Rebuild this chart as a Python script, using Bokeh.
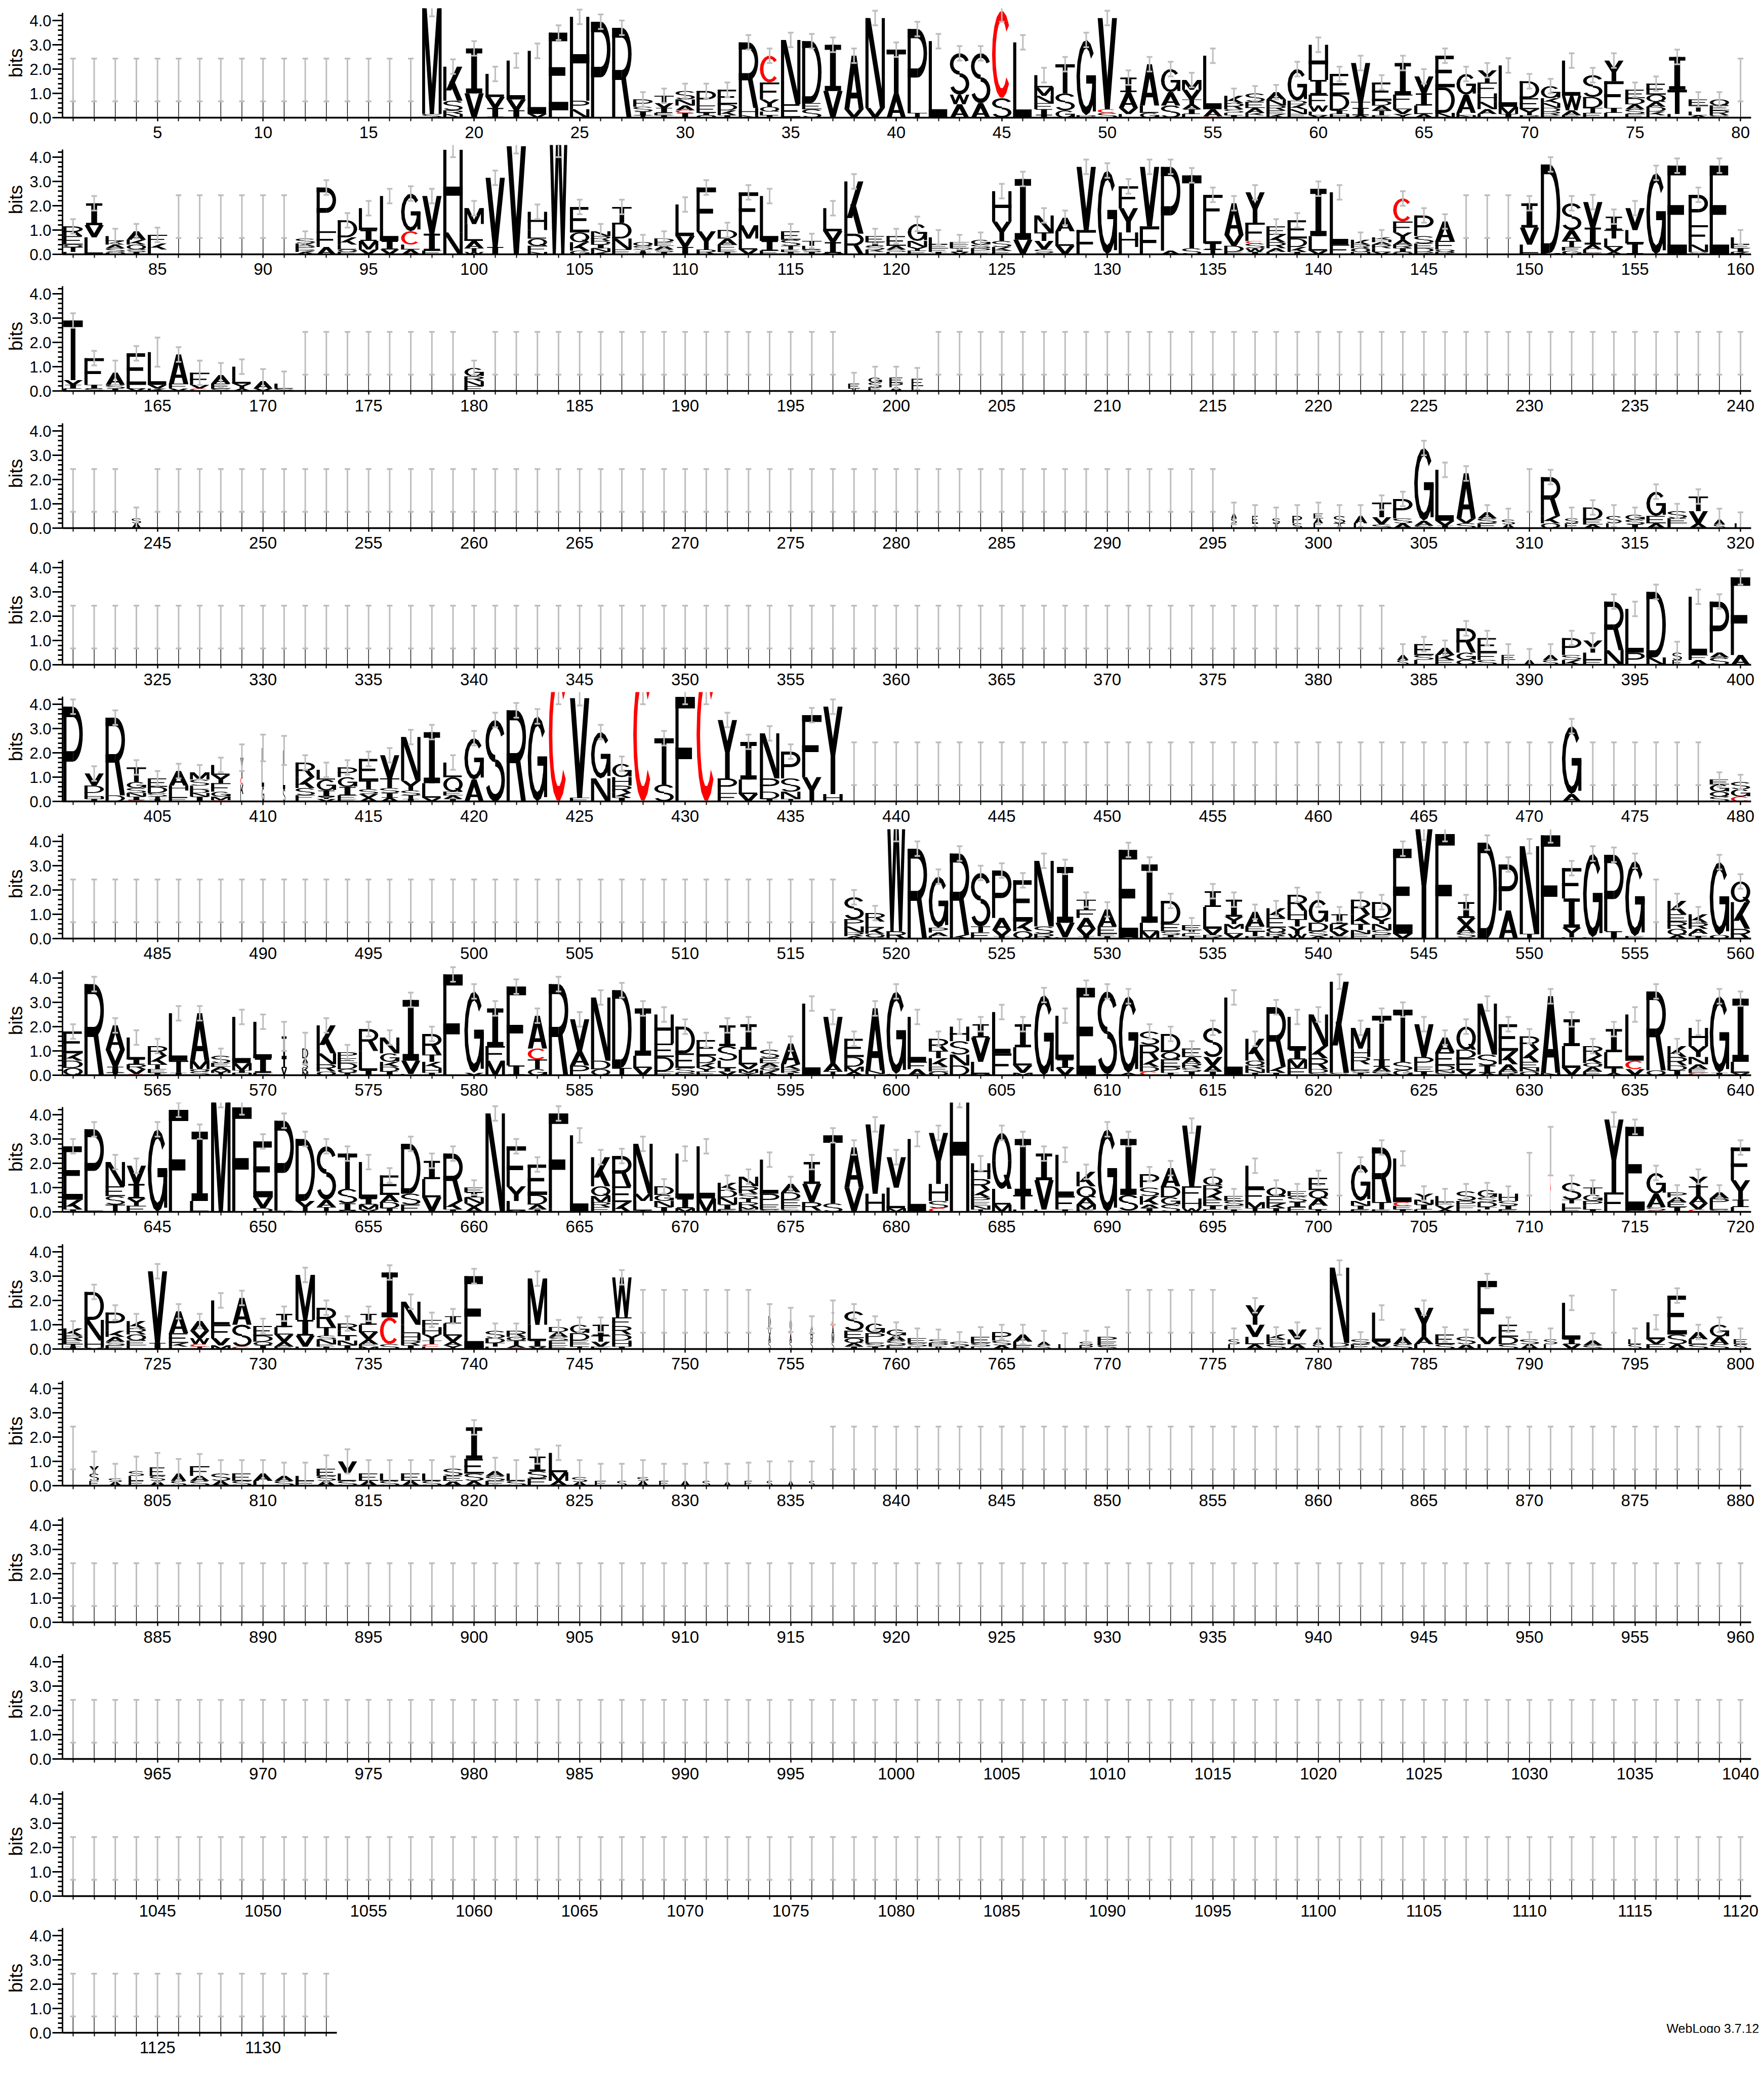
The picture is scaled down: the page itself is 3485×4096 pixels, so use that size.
import math
from bokeh.plotting import figure
from bokeh.layouts import column, row
from bokeh.models import Range1d, FixedTicker, PrintfTickFormatter
from bokeh.embed import file_html
from bokeh.resources import INLINE

# ---------------- data (letters bottom->top with heights in bits) ----------------
# "-" = gap column, "-N" = N gap columns, "wX" = stack width fraction,
# "eX" = error half-length, "cX" = error-bar centre (when different from stack top)
ROW01 = ["-17",
 "S.15 M4.45 c4.47", "N.15 R.15 S.4 K1.4", "V1 I1.85",
 "I.4 V.45 L.95", "I.3 V.45 L1.6", "V.15 L2.6", "L.3 E3.2", "N.35 P.35 H3.45", "P3.95", "R3.7", "T.1 I.15 S.2 P.3", "I.1 E.1 I.2 V.2 T.3", "I.2 C.1 A.2 N.25 S.35",
 "Q.1 I.1 E.3 P.6", "I.1 K.2 D.25 E.6", "N.1 H.3 R2.7", "I.1 L.15 Q.2 Y.3 F.7 C1.1", "E.55 N2.65", "S.35 E.25 D2.55", "V1.1 I1.9", "V.35 A2.2", "V.4 N3.7", "A1 T1.8",
 "T.2 P3.45", "L3.15", "A.55 W.4 S1.7", "A.6 S2.05", "S.8 C3.6 c4.25", "L3.1", "I.1 I.25 F.25 N.3 M.35 L.5", "G.3 S.7 T1.2", "P.1 G3.1", "S.2 C.15 V3.75",
 "L.15 V.25 A.65 I.6", "G.2 L.3 A1.7", "S.5 A.55 G.95", "L.15 I.2 A.2 T.2 V.4 M.4", "C.05 A.3 L2.2", "I.1 L.1 S.15 R.25 K.3", "L.1 K.1 A.2 E.25 S.35", "K.15 E.15 R.2 N.25 A.3", "E.15 N.2 K.2 D.15 G1.3", "V.1 L.15 W.25 F.45 I.6 H1.45",
 "H.15 I.15 D.65 E.85", "A.1 I.3 T.25 V1.6", "E.1 T.2 A.2 D.2 E.75", "Y.15 V.2 L.25 F.35 I1.3", "A.15 L.35 I.5 V.7", "N.2 D1.05 E1.3", "N.1 L.1 A.75 G.85", "L.15 A.2 N.3 H.35 F.45 Y.5", "I.15 M.3 L1.7", "R.1 Y.25 E.45 D.7",
 "E.1 R.15 D.15 N.2 K.2 G.5", "E.1 A.2 W.6 L1.45", "E.2 T.2 D.45 S.9", "L.2 I.2 F1.1 Y.85", "F.15 S.2 A.2 D.25 E.35", "L.1 K.15 D.2 A.2 Q.3 E.45", "L.15 T1.0 I1.35", "A.1 L.15 T.25 E.25", "S.1 R.2 E.2 Q.25", "-"]

ROW02 = [
 "L.1 T.2 Q.1 E.35 R.4", "L.7 V.5 I.9", "Q.1 S.15 A.15 K.15 L.2", "I.1 S.1 Q.2 K.2 A.35", "L.2 K.25 F.35", "-5",
 "-", "A.1 R.1 P.15 K.1 S.2", "A.3 F.65 P1.8", "E.1 Q.1 L.2 K.3 D.7", "V.2 M.35 I.45 L.9", "V.2 I.35 L1.85", "A.2 L.2 C.55 G1.55", "F.15 I.7 V1.55", "N.9 H3.4", "W.1 T.15 A.3 L.7 M.65",
 "I.3 V2.85", "V4.45", "N.1 F.25 Q.3 L.35 H.75", "W6.0 c4.3", "G.15 K.35 Q.4 E1.05", "K.1 N.15 I.15 D.15 R.2 N.2", "E.2 N.45 D.65 T.65", "I.1 T.1 S.15 Q.15", "I.1 S.1 A.15 E.15 D.15", "I.3 V.45 L1.3",
 "R.2 Y.75 F1.8", "I.1 E.1 F.2 A.25 D.35", "V.2 L.45 M.55 F1.35", "F.15 I.4 L1.85", "I.1 E.1 T.15 S.25 E.35", "I.1 S.1 L.15 T.2", "M.05 I.45 V.45 L.95", "R.85 K2.15", "L.1 K.1 S.15 I.15 E.25", "L.1 S.1 A.15 E.4",
 "E.15 Y.15 N.25 G.7", "I.1 F.15 E.15 L.3", "V.1 I.15 E.15 F.1", "F.1 P.15 S.15 G.2", "F.15 K.15 S.25 Y.8 H1.25", "V.6 I2.5", "C.05 S.15 V.35 T.35 N.7", "V.35 L.6 A.55", "F1 V2.6", "G3.45",
 "L.3 H.6 Y1.0 F.9", "F1.15 V2.45", "A.15 P3.45", "S.25 T3.0", "T.2 I.25 L.85 F1.15", "E.1 D.25 V.45 A1.3", "I.1 W.15 S.2 C.1 F.75 Y1.25", "L.1 A.15 R.25 K.3 E.35", "I.1 K.2 D.35 E.75", "V.15 L.6 I1.95",
 "F.4 L2.15", "H.1 Q.15 R.15 K.2", "V.1 L.15 R.15 A.1 H.1 K.1", "Q.1 I.15 R.15 A.2 Y.3 F.45 C.95", "R.1 D.15 E.2 S.3 P.85", "R.1 Q.1 F.35 A.8", "-3", "F.05 L.35 V.7 I1.0",
 "M.05 D3.65", "G.15 F.15 T.25 A.45 S1.1", "C.05 L.15 A.2 I.7 V1.05", "A.1 V.2 L.35 T.35 I.55", "I.45 L.55 V.9", "G3.35", "E3.65", "C.05 S.05 N.3 F.8 P1.25", "E3.65", "K.1 I.15 E.15 L.3"]

ROW03 = [
 "L.1 I.15 V.2 T2.45", "S.1 I.15 F1.1", "I.1 S.15 A.5 e.5", "V.1 L.15 E1.3", "K.1 V.15 L1.35 e.6", "V.1 F.2 A1.2", "C.1 V.15 F.5 e.5", "S.1 E.2 A.35 e.5", "A.1 Y.2 L.7", "V.1 A.3 e.5",
 "S.1 L.2 e.5", "-8", "E.2 N.2 R.2 G.35",
 "-17", "w.6 I.1 E.2", "w.7 E.15 S.2 G.2", "w.7 A.15 P.2 E.2", "w.6 L.2 E.3", "-39"]

ROW04 = [
 "-3", "w.5 A.2 S.2", "-51",
 "w.3 L.2 S.2 A.2", "w.3 T.2 E.3", "w.4 I.2 S.2", "w.5 S.2 P.3", "w.5 L.2 A.2 E.2", "w.6 T.2 S.3", "w.7 L.2 A.3",
 "S.15 V.3 T.6", "A.2 S.2 P.8", "S.1 A.2 G3.0", "I.1 V.2 L2.1", "S.2 V.2 A1.85", "E.2 S.2 A.25", "w.7 A.15 S.2", "-",
 "Q.2 K.3 R1.6", "w.7 E.2 S.2", "A.15 E.2 D.5", "w.8 L.2 S.3", "I.15 S.2 G.2", "A.2 E.3 G1.0", "L.2 E.2 S.3", "A.2 V.5 T.6", "w.6 S.15 A.2", "w.6 L.2"]

ROW05 = [
 "-63",
 "w.6 S.2 A.2", "L.2 S.2 E.45", "E.2 K.2 A.3", "Q.2 G.3 R1.0", "S.2 F.3 E.6", "w.7 L.2 E.2", "w.6 A.2",
 "w.8 S.2 A.2", "K.2 S.2 P.7", "E.2 L.3 Y.5", "N.6 R2.0", "P.5 L1.8", "N.3 D2.7", "w.5 E.2 S.3", "A.2 F.2 L2.4", "S.3 A.2 P2.1", "A.4 F3.2"]

ROW06 = [
 "P3.9", "I.1 H.1 L.15 D.3 V.5", "D.25 R3.2", "C.05 I.15 N.15 S.2 G.25 T.6", "I.1 T.1 S.15 D.25 E.35", "E.15 L.3 H.2 A.6", "I.2 N.15 D.15 L.15 S.25 M.3", "C.05 M.15 G.2 F.35 Y.35 L.4", "w.15 e.55 L.3 K.4 C.3 Y.8", "w.12 e.55 G.6 L1.6",
 "w.12 e.6 S.5 L1.6", "L.1 F.15 S.3 K.45 R.6", "V.1 Y.1 I.25 G.45 L.4", "E.1 F.15 I.35 G.4 P.4", "A.15 V.15 S.2 T.35 E.9", "A.15 I.2 S.2 T.4 V.95", "I.1 T.15 S.2 Y.4 N1.8", "V.15 L.6 I2.1", "I.1 A.15 E.15 Q.6 L.6", "A.9 G1.7",
 "S3.35", "R3.75", "G3.5", "C5.5 c4.3", "F.15 V4.1", "N.95 G1.9", "I.15 K.2 R.3 H.35 G.55", "C5.5 c4.3", "S.7 T1.9", "F4.3",
 "C5.5 c4.3", "F.35 P.6 Y2.4", "V.3 L.6 I1.55", "I.1 D.3 P.55 N1.85", "T.1 N.3 S.55 P1.1", "Y1.0 F2.55", "H.3 Y3.6", "-3",
 "-31", "A.3 G2.8", "-6", "S.2 Q.2 G.3 E.2", "C.2 G.3 S.3"]

ROW07 = [
 "-37", "A.1 R.15 N.25 P.3 S.9", "C.05 Q.15 K.25 L.25 R.35", "R.3 W5.3 c4.3",
 "R3.7", "L.1 A.15 P.2 G2.1", "K.15 R3.35", "E.25 T.25 S2.2", "I.1 V.25 A.5 P1.95", "Q.3 K.4 E1.7", "R.2 S.3 N2.7", "L.05 V.6 I2.3", "I.1 V.3 A.45 F.35 T.4", "I.1 F.1 E.3 A.7",
 "M.05 E3.6", "M.3 L.35 I2.4", "C.05 I.1 S.15 E.3 D.95", "T.1 L.1 I.15 E.2", "R.15 V.25 L.9 I.65", "V.2 L.2 M.2 Y.3 I.7", "R.1 T.2 E.2 A.6", "I.1 R.15 Q.2 E.4 K.4", "W.2 Y.3 T.3 H.35 R.65", "A.1 S.2 D.35 G.95",
 "E.1 V.2 K.3 I.4", "E.2 N.15 T.25 K.4 R.6", "E.15 S.2 N.25 Y.25 D.65", "V.2 E3.5", "Y4.9 c4.35", "F4.3", "C.05 S.2 A.3 V.3 I.65", "D3.95", "A1.15 P1.9", "T.2 N3.6",
 "F4.25", "L.05 Y.4 I1.2 F1.25", "F.05 G3.45", "I.3 P3.15", "E.1 G3.1", "-", "A.15 Q.25 R.3 E.3 K.55", "I.1 L.1 A.2 R.25 K.35", "Q.15 G3.0", "R.4 K1.1 Q.85"]

ROW08 = [
 "Q.3 D.3 K.3 E.9", "R3.75", "T.1 I.25 V.7 A1.0", "C.05 V.2 R.2 I.2 L.9", "I.1 E.15 T.2 K.35 R.4", "I.1 T.5 L1.95", "S.15 Q.1 M.35 A1.95", "T.1 M.1 A.15 E.15 S.3", "H.1 I.1 M.3 L1.9", "F.1 I.6 L1.5",
 "w.3 e.6 V.3 I.4 I.9", "w.3 e.65 M.15 K.15 S.2 A.2 D.4", "Q.15 R.3 N.45 K1.15", "I.1 Q.15 D.25 E.2 P.25", "I.2 L.8 R.9", "I.15 D.2 K.2 G.35 N.65", "L.05 V.55 I2.5", "I.1 H.2 K.25 T.3 R.85", "F4.15", "V.1 G3.35",
 "M.6 F.6 I1.55", "I.4 F3.25", "G.25 T.4 C.45 A1.35", "R3.75", "P.4 A.6 V1.3", "Q.25 D.35 N2.6", "T.3 D3.2", "V.3 L.5 I1.95", "F.15 D.6 E.55 H1.2", "P.1 S.2 E.6 D1.1",
 "F.15 Y.15 K.2 D.3 E.65", "V.15 I.15 L.3 S.6 I.85", "Y.1 M.15 V.2 L.6 I1.05", "K.2 G.15 A.15 E.2 S.35", "I.1 R.15 K.2 A.85", "L2.95", "T.15 A.35 V1.9", "A.15 M.2 D.4 E.75", "S.05 N.15 A2.55", "S.05 G3.4",
 "A.25 F.3 L1.85", "Q.15 E.2 K.35 T.3 R.5", "D.4 N.45 S.55 H.6", "M.05 L.5 V1.0 I.55", "F.9 L1.7", "M.1 V.3 L.75 I.95", "G3.3", "V.3 I.35 L1.8", "E3.6", "A.05 S3.4",
 "A.1 G3.15", "C.15 D.2 K.3 R.6 S.55", "I.1 P.25 E.3 Q.3 D.75", "I.15 S.15 R.2 A.25 E.35", "I.15 A.25 V.35 S1.2", "L3.2", "I.1 N.15 R.15 Q.2 K.9", "I.1 K.25 R2.45", "F.3 M.35 I.4 L1.35", "S.1 D.15 R.45 K.5 N1.3",
 "S.1 K3.75", "I.1 S.1 L.25 R.3 H.35 M.85", "S.15 A.2 I.3 T1.8", "G.2 S.35 T2.15", "I.15 E.2 P.4 V1.35", "S.1 N.1 D.2 E.55 A.6", "V.2 E.5 D.35 Q.95", "A.1 I.3 S.45 N2.1", "R.15 A.3 K.55 E1.1", "Q.15 N.15 E.25 K.5 R.55",
 "N.1 A3.15", "V.3 L.9 I1.1", "E.15 A.2 Q.15 K.3 R.4", "A.1 T.2 L.65 I.95", "V.25 C.35 L1.9", "Q.2 R3.25", "I.2 D.2 R.35 K.45", "C.1 E.15 A.2 N.3 Y.45 H.75", "I.1 G3.15", "V.1 L.45 I2.6"]

ROW09 = [
 "I.1 K.4 E2.2", "L.45 P2.95", "T.3 S.35 E.4 N1.0", "F.25 Y.3 I.6 V.75", "G3.4", "F4.2", "L.45 I2.85", "M5.0 c4.6", "F4.3", "D.15 V.45 E2.3",
 "Y.05 P3.7", "Y.45 D2.55", "T.2 A.3 S2.2", "V.05 I.3 S.6 T1.45", "V.1 M.2 I.25 L1.5", "I.15 D.25 A.3 E.8", "E.3 S.45 D2.05", "V.6 L.75 I.75", "I.1 K.35 R1.95", "A.2 V.15 N.25 I.2 E.2",
 "N4.05", "M.05 L.4 Y.6 F1.65", "I.1 A.2 D.4 E1.25", "L.15 F3.9", "L3.15", "E.2 R.2 M.25 Q.4 K1.2", "K.4 E.65 R1.25", "T.05 L.4 M.3 N2.05", "I.2 N.25 G.25 D.35", "M.15 I.4 L1.85",
 "M.55 L2.15", "E.1 I.2 N.3 D.3 K.3", "E.1 M.1 R.2 T.15 S.2 R.3 N.4", "S.1 E.2 P.45 L1.4", "S.1 F.15 E.25 D.3 A.35", "S.05 R.35 V.75 I.9", "S.35 T2.8", "V1.0 A1.65", "H.75 V2.85", "M.15 L.85 V1.25",
 "L3.0", "C.15 S.3 H.7 Y2.1", "H5.2 c4.6", "T.1 N.15 E.15 P.2 K.3 R.45 H.65", "M.3 L.65 Q2.3", "L.1 T.6 I2.3", "L.1 V1.2 I1.1", "I.1 F.55 L1.7", "E.1 M.2 A.3 Q.45 K.6", "G3.4",
 "E.05 S.65 I2.3", "I.15 A.15 K.35 S.35 P.55", "S.3 G.3 D.45 A.75", "W.15 H.4 F.5 V2.5", "L.1 I.15 E.25 K.3 R.3 Q.35", "I.1 F.15 S.2 E.2", "T.15 M.25 F.55 L.95", "I.15 K.2 E.3 Q.35", "E.2 I.2 S.25 E.2", "I.1 L.15 A.3 Q.35 E.5",
 "-", "E.1 I.15 N.2 G1.5", "E.1 T.3 R2.25", "I.1 E.15 C.15 L1.8", "L.1 I.2 N.2 Y.25", "A.1 V.15 F.15 L.25", "L.1 F.15 P.2 S.4", "L.1 T.1 D.2 S.2 G.3", "E.1 I.15 S.2 H.3", "-",
 "w.04 e1.0 L.8 C1.7", "F.15 L.2 T.15 S.7", "I.1 L.15 P.2 G.25 T.3", "F.8 Y3.0", "S.05 E3.45", "C.05 S.15 A.55 G.85", "I.2 E.2 A.2 P.2", "C.1 V.25 A.3 T.4 Y.4", "S.1 L.2 P.25 A.25", "L.2 I.3 Y.8 F1.35"]

ROW10 = [
 "I.1 T.1 E.15 R.2 K.3", "V.05 H.3 N.85 D1.15", "E.15 S.15 A.2 K.25 P.75", "L.15 E.2 Q.25 R.25 K.3", "I.25 V2.95", "L.1 K.15 E.4 A.9", "T.1 C.1 W.25 V.3 A.4", "M.15 V.3 F.55 L1.0", "C.1 S.9 A1.1", "I.15 Q.15 D.25 E.4",
 "E.1 A.2 V.3 L.3 I.55", "L.1 V.45 I.65 M1.85", "I.1 F.1 N.2 S.15 T.35 R.8", "I.15 N.2 T.2 L.2 R.3", "M.1 F.1 A.2 V.3 L.3 I.45", "S.2 C1.1 I1.85", "I.15 R.2 H.3 L.35 N.95", "L.1 C.1 T.15 Y.25 H.3 F.3", "Y.15 A.15 V.25 L.5 I.3", "E3.0",
 "L.1 T.15 D.2 S.3", "C.05 A.1 T.2 Q.15 R.25", "V.1 I.25 L.65 M1.9", "E.15 F.2 S.15 A.2 D.2", "T.1 L.1 E.15 D.3 G.35", "F.1 V.2 T.25 I.45", "I.1 H.25 D.25 R.35 F.35 W1.65", "-3",
 "-3", "w.12 e.5 S.3 A.3 Q.3 D.45", "w.12 e.5 S.3 A.3 C.2 Q.4", "w.12 e.35 S.3 R.3 E.2 A.2", "w.12 e.5 S.3 M.3 A.3 C.3 T.3", "I.1 A.15 Q.2 E.3 S.8", "I.1 S.15 L.15 P.25 G.4", "E.15 S.2 A.2 G.25",
 "L.1 S.15 E.2 e.4", "I.1 P.15 S.15 e.4", "A.1 S.2 e.4", "L.1 S.15 E.25 e.4", "A.15 S.2 P.35", "E.15 L.15 A.3 e.4", "w.7 S.15 A.15", "w.7 L.2", "w.7 P.15 S.15", "S.15 E.15 P.2 e.4",
 "-5", "w.6 L.2 S.2", "A.2 L.3 V.5 Y.8", "S.2 E.2 K.2", "A.2 L.2 V.4", "w.6 S.2 A.2",
 "S.1 D.15 N3.1", "E.2 S.2", "E.1 V.2 L1.2", "S.2 A.3", "L.2 A.3 Y1.2", "S.2 E.4", "A.2 S.3", "L.2 V.3 F2.3", "S.2 D.3 E.5", "A.2 S.2",
 "w.7 L.2 S.2", "V.2 I.2 L1.5", "S.15 A.2", "-", "w.7 S.2 L.2", "E.2 V.2 L.7", "A.2 S.4 E1.6", "S.2 L.2 A.3", "S.2 A.3 G.5", "w.7 S.2 E.2"]

ROW11 = [
 "-", "w.5 e.6 E.2 S.3 Y.3", "w.7 e.6 A.15 S.15", "w.8 e.6 E.2 L.2 S.2", "w.8 e.6 A.2 S.2 E.35", "w.8 e.6 S.2 A.3", "S.2 A.2 F.4 e.5", "A.2 S.3 e.55", "S.2 E.3 e.55", "L.2 A.3 e.55",
 "S.2 A.2 e.55", "E.2 L.2 e.55", "A.2 S.2 E.3 e.55", "S.2 L.3 V.5 e.5", "A.2 E.3 e.55", "S.2 L.3 e.55", "A.2 E.3 e.55", "S.2 L.3 e.55", "A.2 E.2 S.3 e.5", "A.2 S.3 E.6 I1.3",
 "E.2 S.2 A.2 e.55", "S.2 L.3 e.55", "E.3 S.3 I.6", "A.2 M.35 L.8", "w.8 e.7 A.15 S.2", "w.6 e.7 E.2", "w.5 e.7 S.2", "w.6 e.7 A.2 S.15", "w.5 e.7 E.2", "w.5 e.7 A.2",
 "w.4 e.75 S.2", "w.4 e.75 A.15", "w.4 e.75 E.2", "w.3 e.8 S.2", "w.3 e.8 A.2", "w.3 e.8 S.2", "-4",
 "-40"]

ROW12 = ["-80"]
ROW13 = ["-80"]
ROW14 = ["-80"]
ROW15 = ["-13"]

ROWS = [ROW01, ROW02, ROW03, ROW04, ROW05, ROW06, ROW07, ROW08,
        ROW09, ROW10, ROW11, ROW12, ROW13, ROW14, ROW15]
ROW_START = [1, 81, 161, 241, 321, 401, 481, 561, 641, 721, 801, 881, 961, 1041, 1121]
ROW_LEN = [80, 80, 80, 80, 80, 80, 80, 80, 80, 80, 80, 80, 80, 80, 13]
Y_TICKS = [0, 1, 2, 3, 4]
Y_MINOR = [0.2, 0.4, 0.6, 0.8, 1.2, 1.4, 1.6, 1.8, 2.2, 2.4, 2.6, 2.8, 3.2, 3.4, 3.6, 3.8, 4.2]
Y_AXIS_TOP = 4.32
GAP_CENTER = 1.55
GAP_HALF = 0.88
ERR_HALF = 0.3
ERR_HALF_NARROW = 0.45
CREDIT = "WebLogo 3.7.12"

# ---------------- glyph outlines (unit box) ----------------
SW = 0.16
BH = 0.11


def _R(x0, y0, x1, y1):
    return [(x0, y0), (x1, y0), (x1, y1), (x0, y1)]


def _S(x0, y0, x1, y1, w):
    return [(x0 - w / 2, y0), (x0 + w / 2, y0), (x1 + w / 2, y1), (x1 - w / 2, y1)]


def _B(cx, cy, rx, ry, a0, a1, tx=0.18, ty=BH, n=14):
    out, inn = [], []
    for i in range(n + 1):
        a = math.radians(a0 + (a1 - a0) * i / n)
        out.append((cx + rx * math.cos(a), cy + ry * math.sin(a)))
        inn.append((cx + (rx - tx) * math.cos(a), cy + (ry - ty) * math.sin(a)))
    return out + inn[::-1]


_P = [_R(0, 0, SW, 1), _R(0, 1 - BH, 0.5, 1), _R(0, 0.42, 0.5, 0.42 + BH),
      _B(0.5, 0.71, 0.5, 0.29, -90, 90)]
GLYPHS = {
    "A": [_S(0.13, 0, 0.5, 1, 0.25), _S(0.87, 0, 0.5, 1, 0.25), _R(0.22, 0.2, 0.78, 0.2 + BH)],
    "C": [_B(0.5, 0.5, 0.5, 0.5, 42, 318)],
    "D": [_R(0, 0, SW, 1), _R(0, 1 - BH, 0.45, 1), _R(0, 0, 0.45, BH), _B(0.45, 0.5, 0.55, 0.5, -90, 90)],
    "E": [_R(0, 0, SW, 1), _R(0, 1 - BH, 0.95, 1), _R(0, 0.5 - BH / 2, 0.85, 0.5 + BH / 2), _R(0, 0, 1, BH)],
    "F": [_R(0, 0, SW, 1), _R(0, 1 - BH, 1, 1), _R(0, 0.46 - BH / 2, 0.85, 0.46 + BH / 2)],
    "G": [_B(0.5, 0.5, 0.5, 0.5, 40, 360), _R(0.5, 0.42, 1, 0.42 + BH), _R(1 - SW, 0.05, 1, 0.5)],
    "H": [_R(0, 0, SW, 1), _R(1 - SW, 0, 1, 1), _R(0, 0.5 - BH / 2, 1, 0.5 + BH / 2)],
    "I": [_R(0.35, 0, 0.65, 1), _R(0.08, 1 - BH, 0.92, 1), _R(0.08, 0, 0.92, BH)],
    "K": [_R(0, 0, SW, 1), _S(0.27, 0.3, 0.84, 1, 0.28), _S(0.44, 0.56, 0.85, 0, 0.28)],
    "L": [_R(0, 0, SW, 1), _R(0, 0, 0.95, BH)],
    "M": [_R(0, 0, 0.15, 1), _R(0.85, 0, 1, 1), _S(0.12, 1, 0.5, 0, 0.21), _S(0.88, 1, 0.5, 0, 0.21)],
    "N": [_R(0, 0, SW, 1), _R(1 - SW, 0, 1, 1), _S(0.13, 1, 0.87, 0, 0.25)],
    "P": _P,
    "Q": [_B(0.5, 0.5, 0.5, 0.5, 0, 180), _B(0.5, 0.5, 0.5, 0.5, 180, 360), _S(0.7, 0.25, 0.9, 0, 0.22)],
    "R": _P + [_S(0.58, 0.45, 0.87, 0, 0.25)],
    "S": [_B(0.5, 0.74, 0.5, 0.26, 20, 270, ty=0.09), _B(0.5, 0.26, 0.5, 0.26, 90, -160, ty=0.09)],
    "T": [_R(0, 1 - BH, 1, 1), _R(0.38, 0, 0.62, 1)],
    "V": [_S(0.13, 1, 0.5, 0, 0.25), _S(0.87, 1, 0.5, 0, 0.25)],
    "W": [_S(0.08, 1, 0.28, 0, 0.16), _S(0.5, 1, 0.28, 0, 0.16), _S(0.5, 1, 0.72, 0, 0.16), _S(0.92, 1, 0.72, 0, 0.16)],
    "Y": [_S(0.13, 1, 0.5, 0.45, 0.25), _S(0.87, 1, 0.5, 0.45, 0.25), _R(0.38, 0, 0.62, 0.47)],
}
RED = "#ff0000"
GRAY = "#bebebe"
FONT = "Liberation Sans"

# ---------------- layout (output pixels; page has no body margin) ----------------
PX_PER_POS = 3336 / 80.0
PX_PER_BIT = 48.0
FRAME_H = 216
LEFT = 123
PAGE_W = 3485
ZERO = [int(round(231.8 + 270.3 * k)) for k in range(15)]


def expand(items):
    out = []
    for item in items:
        if item.startswith("-"):
            out.extend(["-"] * (int(item[1:]) if len(item) > 1 else 1))
        else:
            out.append(item)
    return out


figs = []
for k in range(15):
    s, n = ROW_START[k], ROW_LEN[k]
    cols = expand(ROWS[k])
    assert len(cols) == n, (k, len(cols))
    fw = int(round(n * PX_PER_POS))
    top = ZERO[0] - FRAME_H if k == 0 else 0
    if k < 14:
        bottom = ZERO[k + 1] - ZERO[k] - FRAME_H
        right = 20
    else:
        bottom = 4094 - ZERO[k]
        right = 10
    p = figure(frame_width=fw, frame_height=FRAME_H,
               x_range=Range1d(s - 0.5, s + n - 0.5),
               y_range=Range1d(0, FRAME_H / PX_PER_BIT),
               output_backend="svg", toolbar_location=None,
               min_border_left=LEFT, min_border_right=right,
               min_border_top=top, min_border_bottom=bottom)
    p.outline_line_color = None
    p.xgrid.visible = False
    p.ygrid.visible = False
    p.background_fill_color = "white"
    p.border_fill_color = "white"

    bx, by, rx, ry = [], [], [], []
    gx, gtop = [], []
    ex, elo, ehi = [], [], []
    for i, tok in enumerate(cols):
        pos = s + i
        if tok == "-":
            gx.append(pos)
            gtop.append(GAP_CENTER)
            ex.append(pos); elo.append(GAP_CENTER - GAP_HALF); ehi.append(GAP_CENTER + GAP_HALF)
            continue
        w, e, c = 1.0, None, None
        letters = []
        for t in tok.split():
            if t[0] == "w":
                w = float(t[1:])
            elif t[0] == "e":
                e = float(t[1:])
            elif t[0] == "c":
                c = float(t[1:])
            else:
                letters.append((t[0], float(t[1:])))
        width = 0.92 * w
        x0 = pos - width / 2
        y = 0.0
        for ch, h in letters:
            if h >= 0.02:
                for poly in GLYPHS.get(ch, [_R(0, 0, 1, 1)]):
                    xs = [x0 + u * width for u, v in poly]
                    ys = [y + v * h for u, v in poly]
                    if ch == "C":
                        rx.append(xs); ry.append(ys)
                    else:
                        bx.append(xs); by.append(ys)
            y += h
        if e is None:
            e = ERR_HALF if w >= 1 else ERR_HALF_NARROW
        cc = y if c is None else c
        ex.append(pos); elo.append(cc - e); ehi.append(cc + e)

    if bx:
        p.patches(bx, by, fill_color="black", line_color=None)
    if rx:
        p.patches(rx, ry, fill_color=RED, line_color=None)
    if gx:
        p.segment(x0=gx, y0=[0] * len(gx), x1=gx, y1=gtop, line_color="black", line_width=1.3)
    p.segment(x0=ex, y0=elo, x1=ex, y1=ehi, line_color=GRAY, line_width=3)
    p.scatter(ex + ex, elo + ehi, marker="dash", size=11, line_color=GRAY, line_width=3.5)

    ya = p.yaxis[0]
    ya.ticker = FixedTicker(ticks=Y_TICKS, minor_ticks=Y_MINOR)
    ya.formatter = PrintfTickFormatter(format="%.1f")
    ya.bounds = (0, Y_AXIS_TOP)
    ya.axis_line_width = 3
    ya.axis_line_color = "black"
    ya.major_tick_line_color = "black"
    ya.minor_tick_line_color = "black"
    ya.major_tick_line_width = 3
    ya.minor_tick_line_width = 3
    ya.major_tick_out = 20
    ya.major_tick_in = 0
    ya.minor_tick_out = 9
    ya.minor_tick_in = 0
    ya.major_label_standoff = 2
    ya.major_label_text_font = FONT
    ya.major_label_text_font_size = "31px"
    ya.major_label_text_color = "black"
    ya.axis_label = "bits"
    ya.axis_label_text_font = FONT
    ya.axis_label_text_font_size = "37px"
    ya.axis_label_text_font_style = "normal"
    ya.axis_label_text_color = "black"
    ya.axis_label_standoff = 3

    xa = p.xaxis[0]
    xa.ticker = FixedTicker(ticks=[t for t in range(s, s + n) if t % 5 == 0],
                            minor_ticks=list(range(s, s + n)))
    xa.axis_line_width = 3.5
    xa.axis_line_color = "black"
    xa.major_tick_line_color = "black"
    xa.minor_tick_line_color = "black"
    xa.major_tick_line_width = 2
    xa.minor_tick_line_width = 2
    xa.major_tick_out = 7
    xa.minor_tick_out = 7
    xa.major_tick_in = 0
    xa.minor_tick_in = 0
    xa.major_label_standoff = 10
    xa.major_label_text_font = FONT
    xa.major_label_text_font_size = "33px"
    xa.major_label_text_color = "black"
    figs.append(p)

# credit text panel beside the last (short) row
last = figs[-1]
last_w = LEFT + int(round(ROW_LEN[-1] * PX_PER_POS)) + 10
last_h = FRAME_H + (4094 - ZERO[-1])
cw = PAGE_W - last_w
credit = figure(width=cw, height=last_h, x_range=Range1d(0, cw), y_range=Range1d(0, last_h),
                output_backend="svg", toolbar_location=None,
                min_border=0, min_border_left=0, min_border_right=0,
                min_border_top=0, min_border_bottom=0)
credit.axis.visible = False
credit.xgrid.visible = False
credit.ygrid.visible = False
credit.outline_line_color = None
credit.text(x=[cw - 10], y=[last_h - (4083 - (ZERO[-1] - FRAME_H))], text=[CREDIT],
            text_align="right", text_baseline="alphabetic", text_font_size="25px",
            text_color="black", text_font={"value": FONT})

layout = column(*figs[:-1], row(last, credit, spacing=0), spacing=0)
open("out.html", "w").write(file_html(layout, INLINE))
